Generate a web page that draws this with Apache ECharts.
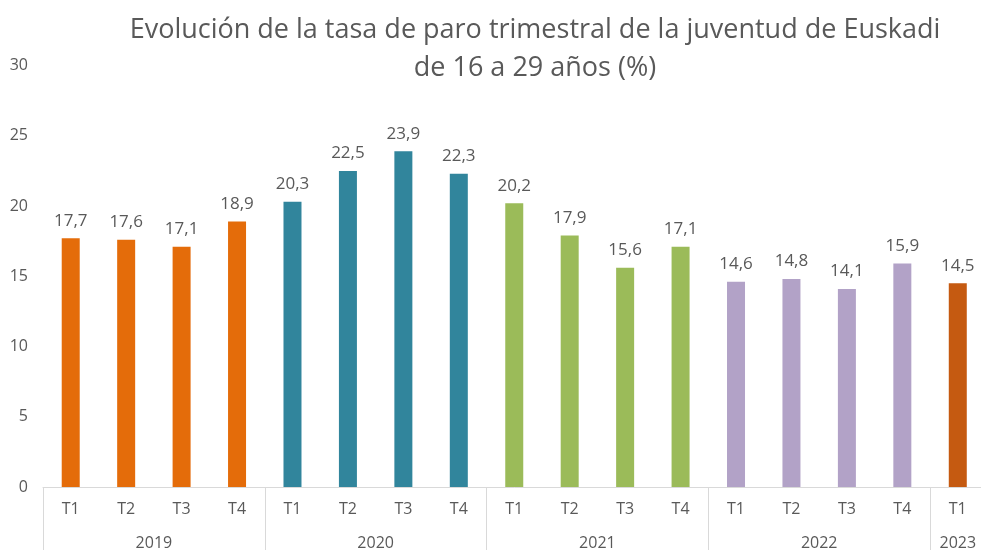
<!DOCTYPE html>
<html><head><meta charset="utf-8">
<script src="https://cdn.jsdelivr.net/npm/echarts@6/dist/echarts.min.js"></script>
<style>html,body{margin:0;padding:0;background:#fff;overflow:hidden}#c{width:992px;height:551px}</style>
</head><body><div id="c"></div>
<script>
const quarters = ['T1','T2','T3','T4','T1','T2','T3','T4','T1','T2','T3','T4','T1','T2','T3','T4','T1'];
const years = ['2019','2020','2021','2022','2023'];
const yearSizes = [4,4,4,4,1];
const values = [17.7,17.6,17.1,18.9,20.3,22.5,23.9,22.3,20.2,17.9,15.6,17.1,14.6,14.8,14.1,15.9,14.5];
const yearColors = ['#E46C0A','#31859C','#9BBB59','#B2A2C7','#C55A11'];
const yTicks = [0,5,10,15,20,25,30];

// derived: color per bar, group boundaries and year label centres
const barColors = [];
const boundaries = [0];
const yearCentres = {};
let pos = 0;
yearSizes.forEach((n,i)=>{
  for(let k=0;k<n;k++) barColors.push(yearColors[i]);
  yearCentres[(pos + n/2).toFixed(1)] = years[i];
  pos += n;
  boundaries.push(pos);
});
const total = quarters.length;

const chart = echarts.init(document.getElementById('c'));
const gray = '#595959';
const lineGray = '#D9D9D9';
const font = 'Open Sans';
chart.setOption({
  animation:false,
  title:{
    text:'Evolución de la tasa de paro trimestral de la juventud de Euskadi\nde 16 a 29 años (%)',
    left:530, top:6, textAlign:'center',
    textStyle:{fontFamily:font,fontSize:27,fontWeight:'normal',color:gray,lineHeight:38}
  },
  grid:{left:43, top:65.5, width:942.5, height:423, containLabel:false},
  xAxis:[{
    type:'category', data:quarters, boundaryGap:true,
    axisLine:{show:true,lineStyle:{color:lineGray,width:1}},
    axisTick:{show:true,length:63,lineStyle:{color:lineGray,width:1},
      interval:(i)=>boundaries.indexOf(i)>=0},
    axisLabel:{fontFamily:font,fontSize:16,color:gray,margin:14,interval:0},
    splitLine:{show:false}
  },{
    type:'value', position:'bottom', min:0, max:total, interval:0.5, offset:0,
    axisLine:{show:false}, axisTick:{show:false}, splitLine:{show:false},
    axisLabel:{fontFamily:font,fontSize:16,color:gray,margin:48,showMinLabel:true,showMaxLabel:true,
      formatter:(v)=>yearCentres[v.toFixed(1)]||''}
  }],
  yAxis:{
    type:'value', min:yTicks[0], max:yTicks[yTicks.length-1], interval:5,
    axisLine:{show:false}, axisTick:{show:false}, splitLine:{show:false},
    axisLabel:{fontFamily:font,fontSize:16,color:gray,margin:15}
  },
  series:[{
    type:'bar', xAxisIndex:0, barWidth:18,
    data:values.map((v,i)=>({value:v,itemStyle:{color:barColors[i]}})),
    label:{show:true,position:'top',distance:9,fontFamily:font,fontSize:17,color:gray,
      formatter:(p)=>p.value.toFixed(1).replace('.',',')}
  }]
});
</script></body></html>
